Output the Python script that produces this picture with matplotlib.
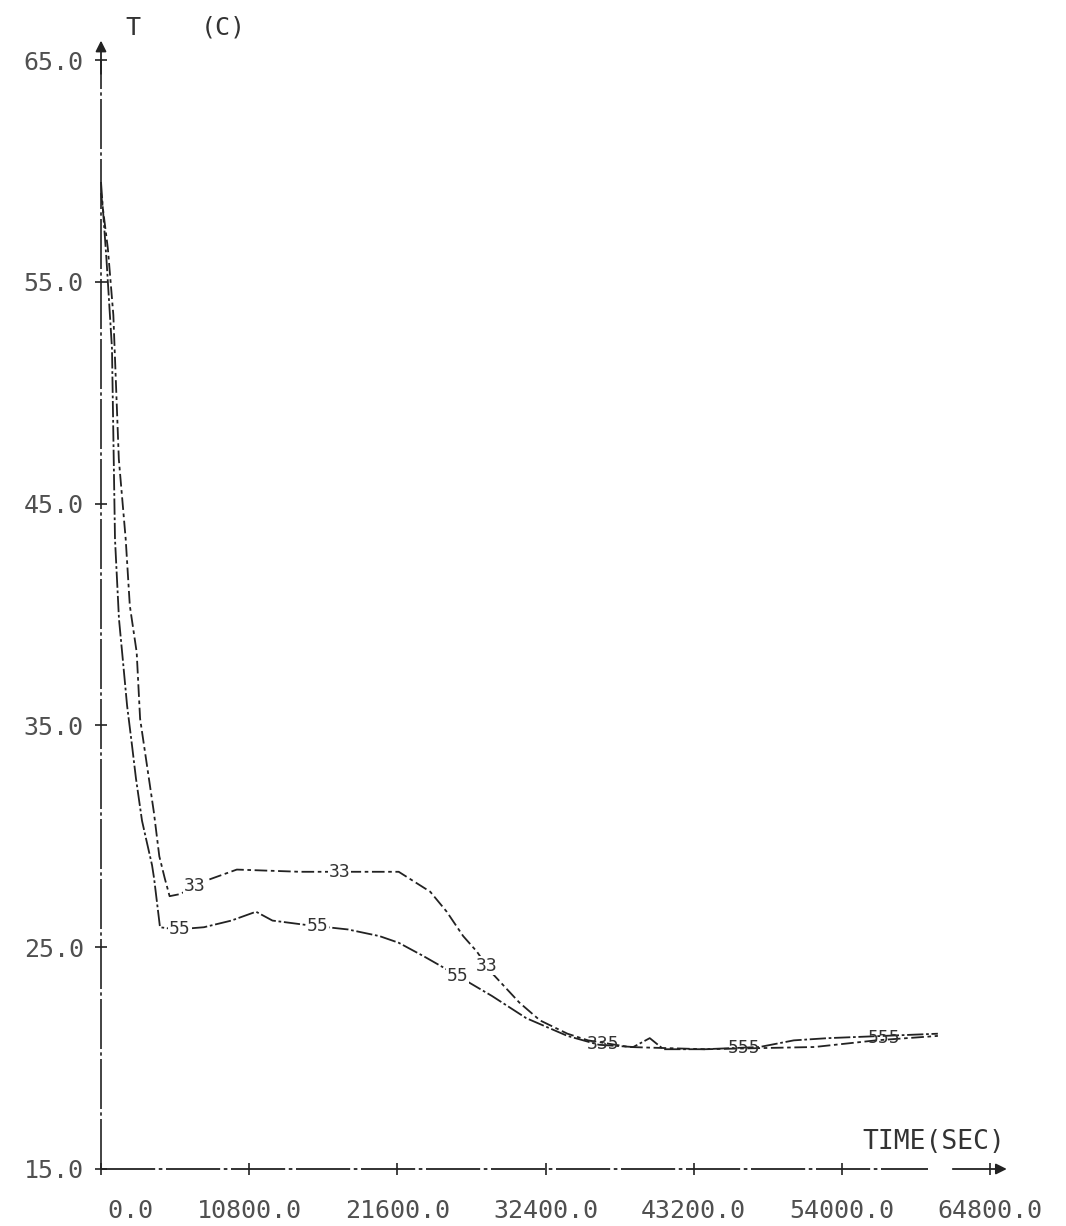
import matplotlib
matplotlib.use("Agg")
import matplotlib.pyplot as plt
import numpy as np

# Time axis (s) and temperature axis (C)
x_ticks = [0, 10800, 21600, 32400, 43200, 54000, 64800]
x_tick_labels = ["    0.0", "10800.0", "21600.0", "32400.0", "43200.0", "54000.0", "64800.0"]
y_ticks = [15, 25, 35, 45, 55, 65]
y_tick_labels = ["15.0", "25.0", "35.0", "45.0", "55.0", "65.0"]

# Curve 3 (upper plateau)
t3 = [0, 500, 900, 1300, 1800, 2100, 2600, 2850, 3350, 3850, 4250, 4650, 5000,
      5800, 7200, 9900, 14500, 19000, 21700, 24000, 25200, 26400, 27400, 28400,
      30500, 32000, 34000, 35500, 38500, 44000, 52000, 56500, 61000]
T3 = [59.0, 56.5, 53.5, 47.0, 43.4, 40.4, 38.3, 35.3, 33.2, 31.1, 29.1, 28.1, 27.3,
      27.4, 27.9, 28.5, 28.4, 28.4, 28.4, 27.5, 26.6, 25.5, 24.8, 23.9,
      22.5, 21.7, 21.1, 20.8, 20.5, 20.4, 20.5, 20.8, 21.0]

# Curve 5 (lower plateau)
t5 = [0, 400, 800, 1020, 1310, 1600, 1900, 2260, 2550, 2990, 3280, 3720, 3870, 4300,
      5500, 7500, 9500, 11300, 12500, 15000, 18000, 20300, 21700, 23500, 25200,
      26300, 28500, 31000, 34000, 36300, 38800, 40000, 41000, 44000, 48000, 50500,
      53000, 57000, 61000]
T5 = [59.5, 56.0, 52.0, 43.4, 39.8, 37.9, 35.9, 34.1, 32.6, 30.7, 29.9, 28.7, 28.1, 25.9,
      25.8, 25.9, 26.2, 26.6, 26.2, 26.0, 25.8, 25.5, 25.2, 24.6, 24.0,
      23.6, 22.8, 21.8, 21.0, 20.6, 20.5, 20.9, 20.4, 20.4, 20.5, 20.8,
      20.9, 21.0, 21.1]

# Curve identifiers written along each curve
lab3_t = [6850, 17400, 28100]
lab5_t = [5760, 15800, 26000]
# Where both curves run together, one shared identifier
shared_t = [36600, 46900, 57100]
shared_text = ["335", "555", "555"]

W, H = 1066, 1226
fig = plt.figure(figsize=(W / 100, H / 100), dpi=100)
fig.patch.set_facecolor("white")

left, right, bottom, top = 101, 990, 1169, 60
ax = fig.add_axes([left / W, 1 - bottom / H, (right - left) / W, (bottom - top) / H])
ax.set_xlim(0, 64800)
ax.set_ylim(15, 65)
for s in ax.spines.values():
    s.set_visible(False)

mono = "DejaVu Sans Mono"
ink = "#222222"
txt = "#505050"

ax.set_xticks(x_ticks)
ax.set_xticklabels(x_tick_labels, family=mono, fontsize=18, color=txt)
ax.set_yticks(y_ticks)
ax.set_yticklabels(y_tick_labels, family=mono, fontsize=18, color=txt)
ax.tick_params(axis="x", direction="inout", length=9, width=1.2, color=ink, pad=17)
ax.tick_params(axis="y", direction="inout", length=9, width=1.2, color=ink, pad=8)

# Axis lines with arrow heads
ax.plot([0, 0], [0, 1.0], transform=ax.transAxes, color=ink, lw=1.2, clip_on=False,
        dashes=(30, 2, 2, 2))
ax.annotate("", xy=(0, 1.02), xytext=(0, 0.985), xycoords="axes fraction",
            arrowprops=dict(arrowstyle="-|>", color=ink, lw=1.3, mutation_scale=16),
            annotation_clip=False)
ax.plot([0, 0.93], [0, 0], transform=ax.transAxes, color=ink, lw=1.3, clip_on=False,
        dashes=(30, 2, 2, 2))
ax.annotate("", xy=(1.022, 0), xytext=(0.955, 0), xycoords="axes fraction",
            arrowprops=dict(arrowstyle="-|>", color=ink, lw=1.3, mutation_scale=16),
            annotation_clip=False)

ax.plot(t3, T3, color=ink, lw=1.3, dashes=(7, 2, 2, 2), clip_on=False)
ax.plot(t5, T5, color=ink, lw=1.3, dashes=(9, 1.5, 1.5, 1.5), clip_on=False)

for tv in lab3_t:
    ax.text(tv, np.interp(tv, t3, T3), "33", family=mono, fontsize=13, color="#333333",
            ha="center", va="center", bbox=dict(fc="white", ec="none", pad=0.5))
for tv in lab5_t:
    ax.text(tv, np.interp(tv, t5, T5), "55", family=mono, fontsize=13, color="#333333",
            ha="center", va="center", bbox=dict(fc="white", ec="none", pad=0.5))
for tv, s in zip(shared_t, shared_text):
    yv = 0.5 * (np.interp(tv, t3, T3) + np.interp(tv, t5, T5))
    ax.text(tv, yv, s, family=mono, fontsize=13, color="#333333",
            ha="center", va="center")

fig.text(133 / W, 1 - 28 / H, "T", family=mono, fontsize=18, color="#333333",
         ha="center", va="center")
fig.text(223 / W, 1 - 28 / H, "(C)", family=mono, fontsize=18, color="#333333",
         ha="center", va="center")
fig.text(934 / W, 1 - 1142 / H, "TIME(SEC)", family=mono, fontsize=19, color="#333333",
         ha="center", va="center")

fig.savefig("out.png", dpi=100, facecolor="white")
